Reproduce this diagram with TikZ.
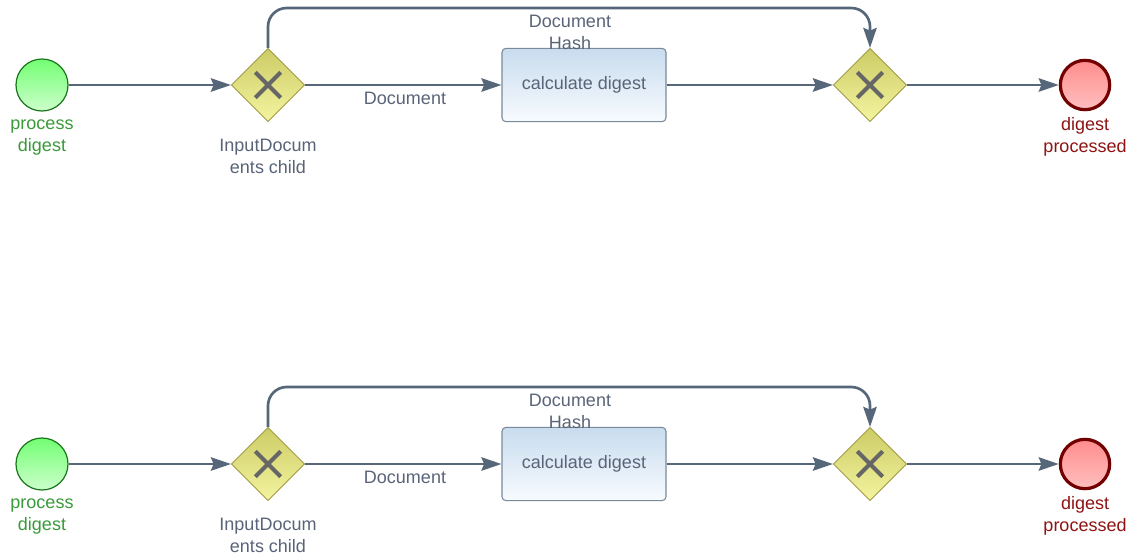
\documentclass[tikz,border=0pt]{standalone}
\usepackage{fontspec}
\setmainfont{Liberation Sans}
\usetikzlibrary{shapes.geometric,arrows.meta}
\definecolor{flowc}{HTML}{56677A}
\definecolor{txtc}{HTML}{5A6478}
\definecolor{greent}{HTML}{3A9A3A}
\definecolor{redt}{HTML}{8E1414}
\tikzset{
  flow/.style={draw=flowc, line width=2pt, -{Stealth[length=15pt,width=10pt,inset=2pt]}},
  startev/.style={circle, minimum size=39pt, inner sep=0pt, draw=green!40!black!90, line width=0.9pt,
     top color=green!55!white, bottom color=green!20!white},
  endev/.style={circle, minimum size=37pt, inner sep=0pt, draw=red!45!black, line width=2.4pt,
     top color=red!45!white, bottom color=red!25!white},
  gatew/.style={diamond, minimum width=55pt, minimum height=55pt, inner sep=0pt, draw=olive!80!black!70, line width=0.6pt,
     top color={rgb,255:red,204;green,204;blue,102}, bottom color={rgb,255:red,244;green,244;blue,160},
     path picture={\draw[line width=3pt, black!60] ([shift={(-9.5pt,-9.5pt)}]path picture bounding box.center) -- ([shift={(9.5pt,9.5pt)}]path picture bounding box.center);
                   \draw[line width=3pt, black!60] ([shift={(-9.5pt,9.5pt)}]path picture bounding box.center) -- ([shift={(9.5pt,-9.5pt)}]path picture bounding box.center);}},
  taskbox/.style={rectangle, rounded corners=3pt, minimum width=123pt, minimum height=55pt, inner sep=0pt,
     draw={rgb,255:red,122;green,138;blue,154}, line width=0.8pt,
     top color={rgb,255:red,200;green,220;blue,238}, bottom color={rgb,255:red,248;green,251;blue,255},
     text=txtc, font=\fontsize{13.5pt}{16.5pt}\selectfont},
  lbl/.style={align=center, inner sep=0pt, font=\fontsize{13.5pt}{16.5pt}\selectfont}
}
\begin{document}
\begin{tikzpicture}[x=0.75pt,y=-0.75pt]
\useasboundingbox[fill=white] (0,0) rectangle (1134,554);
\foreach \r/\dy in {a/0, b/379}{
  \node[startev] (s\r) at (42,85+\dy) {};
  \node[gatew] (g\r) at (268,85+\dy) {};
  \node[taskbox] (t\r) at (584,85+\dy) {calculate digest};
  \node[gatew] (h\r) at (870,85+\dy) {};
  \node[endev] (e\r) at (1085,85+\dy) {};
  \node[lbl, text=greent] (ls\r) at (42,138+\dy) {process\\digest};
  \node[lbl, text=txtc] (lg\r) at (268,156+\dy) {InputDocum\\ents child};
  \node[lbl, text=redt] (le\r) at (1085,137+\dy) {digest\\processed};
  \node[lbl, text=txtc] (ld\r) at (405,98+\dy) {Document};
  \node[lbl, text=txtc] (lh\r) at (570,32+\dy) {Document\\Hash};
  \coordinate (c1\r) at (268,8+\dy);
  \coordinate (c2\r) at (870,8+\dy);
  \draw[flow] (s\r) -- (g\r);
  \draw[flow] (g\r) -- (t\r);
  \draw[flow] (t\r) -- (h\r);
  \draw[flow] (h\r) -- (e\r);
  \draw[flow, rounded corners=14pt] (g\r.north) -- (c1\r) -- (c2\r) -- (h\r.north);
}
\end{tikzpicture}
\end{document}
